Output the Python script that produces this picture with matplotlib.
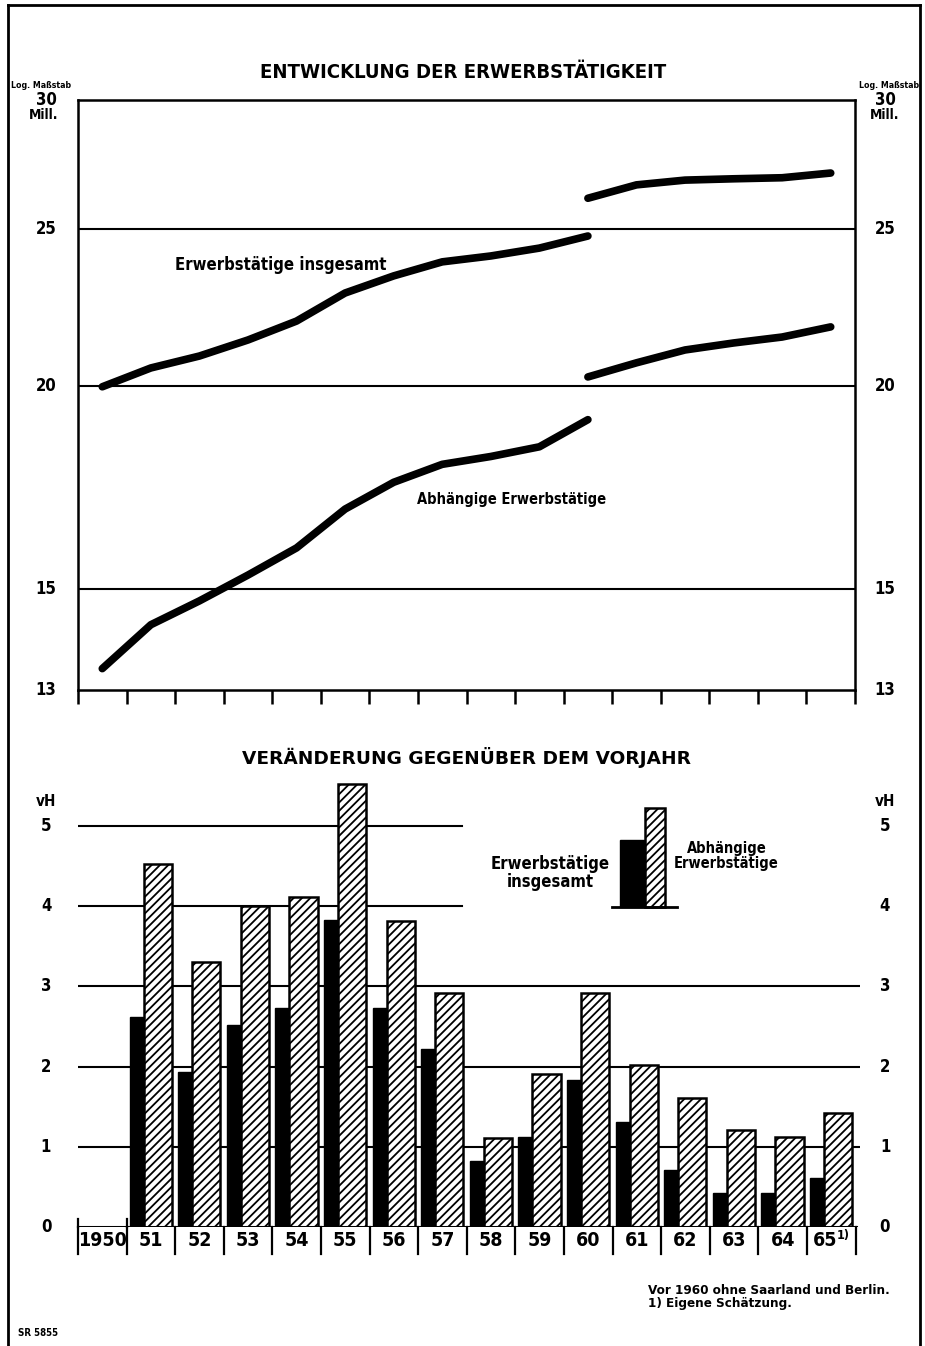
import numpy as np
import matplotlib
matplotlib.use('Agg')
import matplotlib.pyplot as plt
from matplotlib.patches import Rectangle

plt.rcParams['font.family'] = ['DejaVu Sans']
plt.rcParams['font.weight'] = 'bold'
plt.rcParams['font.stretch'] = 'condensed'
plt.rcParams['hatch.linewidth'] = 1.3

W, H = 925, 1346

# --- data ---
years_a = list(range(1950, 1961))      # bis 1960 ohne Saarland und Berlin
years_b = list(range(1960, 1966))
total_a = [19.98, 20.52, 20.87, 21.35, 21.93, 22.82, 23.38, 23.85, 24.05, 24.32, 24.74]
total_b = [26.1, 26.6, 26.78, 26.83, 26.87, 27.05]
dep_a = [13.4, 14.26, 14.75, 15.3, 15.9, 16.8, 17.45, 17.9, 18.1, 18.35, 19.07]
dep_b = [20.26, 20.67, 21.05, 21.26, 21.44, 21.75]

bar_years = list(range(1951, 1966))
total_chg = [2.62, 1.93, 2.52, 2.73, 3.83, 2.73, 2.22, 0.82, 1.12, 1.83, 1.31, 0.71, 0.42, 0.42, 0.61]
dep_chg = [4.53, 3.30, 4.0, 4.11, 5.52, 3.82, 2.92, 1.11, 1.91, 2.92, 2.02, 1.61, 1.21, 1.12, 1.42]

top_ticks = [13, 15, 20, 25, 30]
bot_ticks = [0, 1, 2, 3, 4, 5]
cell_labels = ['1950', '51', '52', '53', '54', '55', '56', '57', '58', '59',
               '60', '61', '62', '63', '64', '65']


def fx(x):
    return x / W


def fy(y):
    return 1 - y / H


def pos(x):
    return [yr - 1950 for yr in x]


fig = plt.figure(figsize=(W / 100, H / 100), dpi=100)

# outer frame
fig.add_artist(plt.Line2D([fx(8), fx(8)], [fy(1346), fy(5)], color='black', lw=2))
fig.add_artist(plt.Line2D([fx(920), fx(920)], [fy(1346), fy(5)], color='black', lw=2))
fig.add_artist(plt.Line2D([fx(8), fx(920)], [fy(5), fy(5)], color='black', lw=2))

# ---------------- top chart ----------------
ax1 = fig.add_axes([fx(78), fy(690), fx(855) - fx(78), fy(100) - fy(690)])
ax1.set_yscale('log')
ax1.set_ylim(13, 30)
ax1.set_xlim(-0.5, 15.5)
for v in [15, 20, 25]:
    ax1.axhline(v, color='black', lw=1.5)
ax1.plot(pos(years_a), total_a, color='black', lw=5.5, solid_capstyle='round')
ax1.plot(pos(years_b), total_b, color='black', lw=5.5, solid_capstyle='round')
ax1.plot(pos(years_a), dep_a, color='black', lw=5.5, solid_capstyle='round')
ax1.plot(pos(years_b), dep_b, color='black', lw=5.5, solid_capstyle='round')
for s in ax1.spines.values():
    s.set_linewidth(1.8)
ax1.set_xticks(np.arange(-0.5, 16, 1))
ax1.set_xticklabels([])
ax1.tick_params(axis='x', direction='out', length=10, width=1.8)
ax1.set_yticks(top_ticks)
ax1.set_yticks([], minor=True)
ax1.set_yticklabels([])
ax1.tick_params(axis='y', length=0)

ax1.text(3.68, 23.75, 'Erwerbstätige insgesamt', fontsize=12, ha='center', va='center')
ax1.text(8.43, 17.02, 'Abhängige Erwerbstätige', fontsize=10.5, ha='center', va='center')

for v in top_ticks:
    yy = ax1.transData.transform((0, v))[1]
    fig.text(fx(46), yy / H, str(v), fontsize=12, ha='center', va='center')
    fig.text(fx(885), yy / H, str(v), fontsize=12, ha='center', va='center')
fig.text(fx(44), fy(115), 'Mill.', fontsize=10, ha='center', va='center')
fig.text(fx(885), fy(115), 'Mill.', fontsize=10, ha='center', va='center')
fig.text(fx(41), fy(86), 'Log. Maßstab', fontsize=6.3, ha='center', va='center')
fig.text(fx(889), fy(86), 'Log. Maßstab', fontsize=6.3, ha='center', va='center')

fig.text(fx(463), fy(72), 'ENTWICKLUNG DER ERWERBSTÄTIGKEIT', fontsize=14.6,
         ha='center', va='center')

# ---------------- bottom chart ----------------
ax2 = fig.add_axes([fx(78), fy(1227), fx(860) - fx(78), fy(780) - fy(1227)])
ax2.set_xlim(-0.5, -0.5 + 782 / 48.6)
ax2.set_ylim(0, 447 / 80.2)
ax2.axis('off')
for v in [1, 2, 3]:
    ax2.axhline(v, color='black', lw=1.5, zorder=1)
for v in [4, 5]:
    ax2.axhline(v, xmax=(462 - 78) / 782, color='black', lw=1.5, zorder=1)

bx = np.array(pos(bar_years), dtype=float)
ax2.bar(bx - 0.16, total_chg, width=0.56, color='black', edgecolor='black', zorder=2)
ax2.bar(bx + 0.14, dep_chg, width=0.58, color='white', edgecolor='black',
        hatch='////', lw=1.8, zorder=3)

# zero line and year cells
ax2.axhline(0, xmax=(856 - 78) / 782, color='black', lw=2.2, zorder=4)
cell_h = 27 / 80.2
for k in range(17):
    ax2.plot([k - 0.5, k - 0.5], [0, -cell_h], color='black', lw=1.6, clip_on=False)
for k in [0, 1]:
    ax2.plot([k - 0.5, k - 0.5], [0, 8 / 80.2], color='black', lw=1.6, clip_on=False)
for k, lab in enumerate(cell_labels):
    xx = k if k < 15 else k - 0.12
    ax2.text(xx, -cell_h / 2, lab, fontsize=14, ha='center', va='center', clip_on=False)
ax2.text(15.12, -cell_h / 2 + 0.06, '1)', fontsize=9, ha='left', va='center', clip_on=False)

for v in bot_ticks:
    yy = ax2.transData.transform((0, v))[1]
    fig.text(fx(46), yy / H, str(v), fontsize=12, ha='center', va='center')
    fig.text(fx(885), yy / H, str(v), fontsize=12, ha='center', va='center')
fig.text(fx(46), fy(802), 'vH', fontsize=11, ha='center', va='center')
fig.text(fx(885), fy(802), 'vH', fontsize=11, ha='center', va='center')

fig.text(fx(467), fy(758), 'VERÄNDERUNG GEGENÜBER DEM VORJAHR', fontsize=13.3,
         ha='center', va='center', stretch='normal')

# legend
fig.add_artist(Rectangle((fx(620), fy(907)), fx(645) - fx(620), fy(840) - fy(907),
                         facecolor='black', edgecolor='black', transform=fig.transFigure))
fig.add_artist(Rectangle((fx(645), fy(907)), fx(665) - fx(645), fy(808) - fy(907),
                         facecolor='white', edgecolor='black', hatch='////', lw=1.8,
                         transform=fig.transFigure))
fig.add_artist(plt.Line2D([fx(612), fx(677)], [fy(907), fy(907)], color='black', lw=2))
fig.text(fx(610), fy(873), 'Erwerbstätige\ninsgesamt', fontsize=12, ha='right',
         va='center', multialignment='center', linespacing=0.95)
fig.text(fx(674), fy(856), 'Abhängige\nErwerbstätige', fontsize=10.5, ha='left',
         va='center', multialignment='center', linespacing=0.95)

# footnotes
fig.text(fx(648), fy(1297), 'Vor 1960 ohne Saarland und Berlin.\n1) Eigene Schätzung.',
         fontsize=9.6, ha='left', va='center', linespacing=1.0)
fig.text(fx(18), fy(1333), 'SR 5855', fontsize=7, ha='left', va='center')

fig.savefig('out.png', dpi=100, facecolor='white')
